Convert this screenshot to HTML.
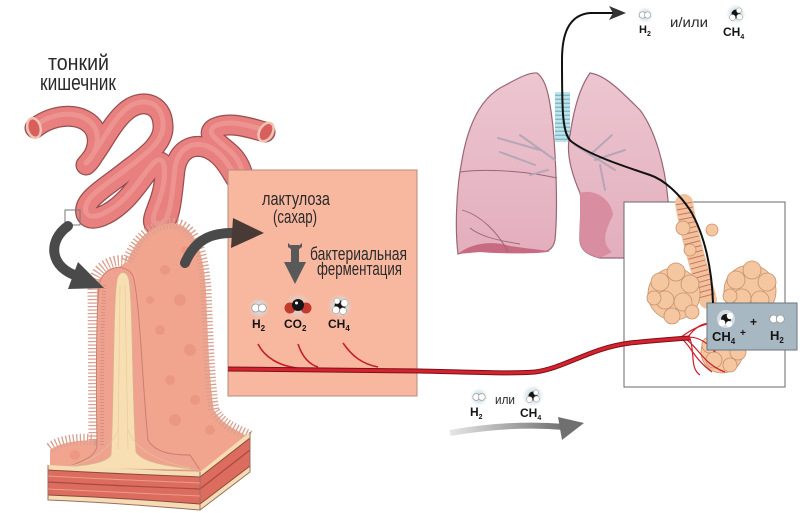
<!DOCTYPE html>
<html><head><meta charset="utf-8"><style>
html,body{margin:0;padding:0;background:#fff;}
svg{display:block;}
.t{font-family:"Liberation Sans Narrow","Liberation Sans","DejaVu Sans",sans-serif;fill:#2a2a2a;}
.b{font-family:"Liberation Sans",Arial,sans-serif;font-weight:bold;fill:#151515;}
</style></head><body>
<svg width="800" height="513" viewBox="0 0 800 513" xmlns="http://www.w3.org/2000/svg">
<defs>
<linearGradient id="ga" x1="0" y1="0" x2="1" y2="0"><stop offset="0" stop-color="#e6e6e6"/><stop offset="1" stop-color="#6e6e6e"/></linearGradient>
<linearGradient id="lung" x1="0" y1="0" x2="0" y2="1"><stop offset="0" stop-color="#ecc6d0"/><stop offset="1" stop-color="#e3aebd"/></linearGradient>
<radialGradient id="glow"><stop offset="0.4" stop-color="#cfe0e6"/><stop offset="1" stop-color="#cfe0e6" stop-opacity="0"/></radialGradient>
<pattern id="rings" width="6" height="4" patternUnits="userSpaceOnUse"><rect width="6" height="4" fill="#bfe3ea"/><rect y="2.6" width="6" height="1.4" fill="#7fb9c6"/></pattern>
</defs>

<!-- Title -->
<text class="t" x="48" y="70" font-size="22" textLength="61" lengthAdjust="spacingAndGlyphs">тонкий</text>
<text class="t" x="40" y="90" font-size="22" textLength="76" lengthAdjust="spacingAndGlyphs">кишечник</text>

<!-- Small intestine tube -->
<g fill="none" stroke-linecap="round" stroke-linejoin="round">
<path d="M35,128 C55,112 85,112 95,130 C102,145 92,160 86,165 C100,150 110,125 125,112 C140,98 162,102 163,125 C165,145 140,160 125,172 C105,188 82,200 86,214 C90,224 110,215 125,200 C140,185 150,165 158,162 C168,160 165,185 160,200 C155,215 148,226 160,226 C171,223 172,195 175,170 C178,150 192,143 207,148 C225,155 232,175 238,182 C248,186 242,165 232,155 C222,145 203,135 215,128 C230,121 250,128 265,132" stroke="#9a4e50" stroke-width="21"/>
<path d="M35,128 C55,112 85,112 95,130 C102,145 92,160 86,165 C100,150 110,125 125,112 C140,98 162,102 163,125 C165,145 140,160 125,172 C105,188 82,200 86,214 C90,224 110,215 125,200 C140,185 150,165 158,162 C168,160 165,185 160,200 C155,215 148,226 160,226 C171,223 172,195 175,170 C178,150 192,143 207,148 C225,155 232,175 238,182 C248,186 242,165 232,155 C222,145 203,135 215,128 C230,121 250,128 265,132" stroke="#e7807e" stroke-width="18.5"/>
<path d="M35,126 C55,110 85,110 95,128 C102,143 92,158 86,163 C100,148 110,123 125,110 C140,96 162,100 163,123 C165,143 140,158 125,170 C105,186 82,198 86,212 C90,222 110,213 125,198 C140,183 150,163 158,160 C168,158 165,183 160,198 C155,213 148,224 160,224 C171,221 172,193 175,168 C178,148 192,141 207,146 C225,153 232,173 238,180 C248,184 242,163 232,153 C222,143 203,133 215,126 C230,119 250,126 265,130" stroke="#f2a29e" stroke-width="5" opacity="0.6"/>
</g>
<ellipse cx="34" cy="128" rx="6.5" ry="10" fill="#d95f5c" stroke="#f0c4b4" stroke-width="2.5" transform="rotate(-15 34 128)"/>
<ellipse cx="266" cy="132" rx="6.5" ry="10" fill="#d95f5c" stroke="#f0c4b4" stroke-width="2.5" transform="rotate(30 266 132)"/>
<rect x="65" y="210" width="15" height="15" fill="none" stroke="#777" stroke-width="1"/>

<!-- Villus: back large villus -->
<path d="M127,262 C135,240 150,225 172,223 C195,225 203,250 206,290 C208,340 210,390 214,410 C222,425 238,430 248,437 L248,440 L200,472 L50,468 L50,450 C60,442 80,440 97,440 L97,280 Z" fill="#f2a58e"/>
<path d="M50,448 C60,440 80,438 94,440 L93,285 C96,262 120,258 127,262 C135,240 150,225 172,223 C195,225 203,250 206,290 C208,340 210,390 214,410 C222,425 238,430 250,436" fill="none" stroke="#d9a090" stroke-width="11" stroke-dasharray="1.3 2.2"/>
<g fill="#e7907c" opacity="0.6">
<circle cx="165" cy="270" r="5"/><circle cx="180" cy="300" r="6"/><circle cx="160" cy="330" r="5"/><circle cx="190" cy="350" r="6"/><circle cx="170" cy="380" r="5"/><circle cx="195" cy="400" r="5"/><circle cx="175" cy="420" r="6"/><circle cx="150" cy="300" r="4"/><circle cx="185" cy="250" r="4"/><circle cx="210" cy="430" r="5"/><circle cx="75" cy="455" r="5"/>
</g>
<path d="M97,445 C96,380 96,300 100,282 C104,266 126,262 133,276 C140,300 142,380 148,440 C155,452 170,455 190,455 L200,470 L60,470 C80,462 96,458 97,445 Z" fill="#efa290" stroke="#c98070" stroke-width="1"/>
<path d="M102,445 C102,380 102,300 105,285" fill="none" stroke="#d49080" stroke-width="4" stroke-dasharray="1 2"/>
<path d="M111,455 C114,400 113,305 117,280 C119,270 127,270 129,280 C133,305 132,400 136,452 C142,462 165,466 200,470 L55,468 C80,466 106,464 111,455 Z" fill="#f7deb3" stroke="#d9b58c" stroke-width="0.8"/>
<g stroke="#e8c89a" stroke-width="0.6" fill="none"><path d="M120,285 L118,450"/><path d="M125,285 L128,450"/><path d="M118,430 C110,450 90,462 70,466"/><path d="M128,430 C135,450 160,462 190,468"/></g>
<!-- block -->
<path d="M48,465 C100,468 150,470 200,472 L250,432 L250,472 L200,510 C150,506 100,502 48,500 Z" fill="#f5dcb5"/>
<path d="M48,470 C100,473 150,475 200,477 L250,438 L250,466 L200,504 C150,500 100,497 48,495 Z" fill="#dc6c5e"/>
<path d="M48,482 C100,485 150,487 200,489 L250,450" fill="none" stroke="#a84a44" stroke-width="1.2"/>
<path d="M48,470 C100,473 150,475 200,477 L250,438" fill="none" stroke="#8a4a40" stroke-width="1"/>
<path d="M48,495 C100,497 150,500 200,504 L250,466" fill="none" stroke="#8a4a40" stroke-width="1"/>
<path d="M48,465 L48,500 C100,502 150,506 200,510 L250,472 L250,432 M200,472 L200,510" fill="none" stroke="#9a7060" stroke-width="1"/>
<path d="M48,476 C100,479 150,481 200,483 M48,489 C100,491 150,494 200,496" fill="none" stroke="#ea9c8c" stroke-width="1"/>

<!-- dark curved arrows -->
<path d="M68,226 C48,240 48,268 80,277" fill="none" stroke="#4a4a4a" stroke-width="10" stroke-linecap="round"/>
<polygon points="68,289 104,288 78,262" fill="#4a4a4a"/>

<!-- salmon box -->
<rect x="228" y="170" width="189" height="226" fill="#f8b8a0" stroke="#b98a7c" stroke-width="1"/>
<path d="M185,263 C195,240 210,232 238,233" fill="none" stroke="#4a4a4a" stroke-width="10" stroke-linecap="round"/>
<polygon points="233,218 264,233 231,248" fill="#4a3a36"/>

<text class="t" x="262" y="205" font-size="18" textLength="68" lengthAdjust="spacingAndGlyphs">лактулоза</text>
<text class="t" x="273" y="223" font-size="18" textLength="44" lengthAdjust="spacingAndGlyphs">(сахар)</text>
<text class="t" x="310" y="260" font-size="18" textLength="97" lengthAdjust="spacingAndGlyphs">бактериальная</text>
<text class="t" x="317" y="275" font-size="18" textLength="85" lengthAdjust="spacingAndGlyphs">ферментация</text>
<path d="M295,245 L295,266" stroke="#595959" stroke-width="8"/>
<polygon points="284,262 306,262 295,284" fill="#595959"/>
<polygon points="288,243 295,249 302,243 302,247 295,252 288,247" fill="#595959"/>

<!-- molecules in box -->
<g transform="translate(259,308)"><circle r="10" fill="url(#glow)"/><circle cx="-3.3" r="4" fill="#fff" stroke="#9a9a9a" stroke-width="0.8"/><circle cx="3.3" r="4" fill="#fff" stroke="#9a9a9a" stroke-width="0.8"/></g>
<g transform="translate(298,306)"><circle r="13" fill="url(#glow)" opacity="0.6"/><circle cx="-8" cy="2" r="5.5" fill="#c23a2c"/><circle cx="8" cy="2" r="5.5" fill="#c23a2c"/><circle cx="0" cy="-1" r="6" fill="#151515"/><circle cx="-1.5" cy="-3" r="1.5" fill="#fff"/></g>
<g transform="translate(340,306)"><circle r="12" fill="url(#glow)"/><circle r="5.5" fill="#151515"/><circle cx="-4" cy="4" r="3.6" fill="#fff" stroke="#888" stroke-width="0.5"/><circle cx="4.5" cy="-3" r="3.6" fill="#fff" stroke="#888" stroke-width="0.5"/><circle cx="3" cy="5" r="3.4" fill="#fff" stroke="#888" stroke-width="0.5"/><circle cx="-3" cy="-5" r="3" fill="#fff" stroke="#888" stroke-width="0.5"/></g>
<text class="b" x="252" y="328" font-size="12">H<tspan font-size="8" dy="3">2</tspan></text>
<text class="b" x="284" y="328" font-size="12">CO<tspan font-size="8" dy="3">2</tspan></text>
<text class="b" x="328" y="328" font-size="12">CH<tspan font-size="8" dy="3">4</tspan></text>
<g fill="none" stroke="#c2222c" stroke-width="1.6"><path d="M258,344 C265,358 280,366 297,368"/><path d="M298,344 C302,356 308,364 318,367"/><path d="M343,343 C352,356 362,364 378,367"/></g>

<!-- Lungs -->
<rect x="555" y="92" width="15" height="50" fill="url(#rings)"/>
<path d="M537,73 C547,80 550,100 553,127 C556,160 558,210 555,240 C553,250 547,252 540,252 L507,252 C490,250 475,248 458,254 C455,230 456,190 462,160 C468,125 480,100 500,88 C515,80 528,72 537,73 Z" fill="url(#lung)" stroke="#9a6676" stroke-width="1.2"/>
<path d="M458,254 C470,244 490,240 510,246 C525,248 540,250 550,251 C545,254 500,254 480,252 Z" fill="#c86a82"/>
<path d="M460,172 C490,168 530,172 557,178 M462,210 C480,215 498,232 508,252 M470,228 C480,236 495,240 520,244" fill="none" stroke="#9a6676" stroke-width="0.9"/>
<g fill="none" stroke="#b6a6b8" stroke-width="2" stroke-linecap="round"><path d="M555,160 L520,135 M540,150 L498,138 M535,165 L500,152 M548,170 L530,175"/></g>
<path d="M590,73 C605,75 620,90 640,110 C655,130 665,165 668,200 C670,225 670,245 668,258 L600,258 C588,255 580,250 580,240 C580,220 582,200 580,193 C570,170 566,150 570,135 C573,115 578,90 590,73 Z" fill="url(#lung)" stroke="#9a6676" stroke-width="1.2"/>
<path d="M580,193 C595,188 612,200 613,215 C606,230 600,242 612,252 L600,258 C588,255 580,250 580,240 Z" fill="#d88ea0"/>
<g fill="none" stroke="#b6a6b8" stroke-width="2" stroke-linecap="round"><path d="M575,145 L615,170 M590,155 L612,135 M595,160 L625,150 M600,165 L605,190"/></g>

<!-- Inset box -->
<rect x="624" y="202" width="161" height="185" fill="#fff" stroke="#6a6a6a" stroke-width="1"/>
<path d="M684,203 C690,240 700,270 708,300" fill="none" stroke="#f0c39c" stroke-width="18" stroke-linecap="round"/>
<path d="M684,203 C690,240 700,270 708,300" fill="none" stroke="#c45c58" stroke-width="16" stroke-dasharray="1 4" opacity="0.8"/>
<g fill="#f4c7a0" stroke="#c8906c" stroke-width="0.8">
<circle cx="683" cy="228" r="7"/><circle cx="712" cy="230" r="6"/><circle cx="690" cy="250" r="6"/>
<circle cx="674" cy="294" r="26"/>
<circle cx="660" cy="282" r="9"/><circle cx="676" cy="272" r="9"/><circle cx="690" cy="284" r="9"/><circle cx="665" cy="300" r="9"/><circle cx="683" cy="302" r="9"/><circle cx="672" cy="316" r="8"/><circle cx="654" cy="298" r="7"/><circle cx="692" cy="312" r="7"/>
<circle cx="750" cy="291" r="26"/>
<circle cx="736" cy="280" r="9"/><circle cx="752" cy="270" r="9"/><circle cx="767" cy="282" r="9"/><circle cx="742" cy="298" r="9"/><circle cx="760" cy="300" r="9"/><circle cx="730" cy="296" r="7"/>
<circle cx="722" cy="352" r="21"/>
<circle cx="710" cy="345" r="8"/><circle cx="726" cy="340" r="8"/><circle cx="738" cy="352" r="8"/><circle cx="714" cy="360" r="8"/><circle cx="730" cy="365" r="7"/>
</g>
<g fill="none" stroke="#cc1f2c" stroke-width="1.2">
<path d="M680,338 C690,330 700,325 712,323"/><path d="M682,339 C690,345 695,360 712,372"/><path d="M684,338 C695,335 705,340 715,352"/><path d="M686,339 C700,350 705,365 725,372"/><path d="M688,337 C700,320 715,320 725,330"/><path d="M690,338 C695,355 690,368 700,375"/>
</g>
<path d="M228,369 L420,371 C470,372 510,374 535,372 C565,368 590,348 630,343 C650,341 670,339 690,338" fill="none" stroke="#7d1018" stroke-width="5"/>
<path d="M228,369 L420,371 C470,372 510,374 535,372 C565,368 590,348 630,343 C650,341 670,339 690,338" fill="none" stroke="#d3232e" stroke-width="3"/>

<rect x="707" y="303" width="90" height="47" fill="#a8b8c3" stroke="#6a7680" stroke-width="1"/>
<g transform="translate(726,319)"><circle r="9" fill="#fff" opacity="0.5"/><circle r="5" fill="#151515"/><circle cx="-4" cy="4" r="3.4" fill="#fff"/><circle cx="4" cy="-3" r="3.2" fill="#fff"/><circle cx="3" cy="5" r="3" fill="#fff"/></g>
<g transform="translate(777,319)"><circle cx="-3.3" r="4" fill="#fff" stroke="#9a9a9a" stroke-width="0.8"/><circle cx="3.3" r="4" fill="#fff" stroke="#9a9a9a" stroke-width="0.8"/></g>
<text class="b" x="712" y="341" font-size="13">CH<tspan font-size="8" dy="3">4</tspan></text>
<text class="b" x="740" y="336" font-size="10">+</text>
<text class="b" x="750" y="326" font-size="12">+</text>
<text class="b" x="770" y="340" font-size="13">H<tspan font-size="8" dy="3">2</tspan></text>

<path d="M713,303 C712,270 705,235 690,210 C680,195 665,180 650,175 C620,165 590,155 572,142 C562,135 562,110 562,60 C562,35 568,15 590,13 L614,13" fill="none" stroke="#111" stroke-width="2"/>
<polygon points="626,13 609,6 613,13 609,20" fill="#333"/>

<g transform="translate(645,15)"><circle r="8" fill="url(#glow)"/><circle cx="-2.6" r="3.2" fill="#fff" stroke="#999" stroke-width="0.7"/><circle cx="2.6" r="3.2" fill="#fff" stroke="#999" stroke-width="0.7"/></g>
<text class="b" x="639" y="33" font-size="11">H<tspan font-size="7" dy="3">2</tspan></text>
<text class="t" x="670" y="27" font-size="14" textLength="38" lengthAdjust="spacingAndGlyphs">и/или</text>
<g transform="translate(736,14)"><circle r="10" fill="url(#glow)"/><circle r="4.5" fill="#151515"/><circle cx="-3.5" cy="3.5" r="3" fill="#fff" stroke="#888" stroke-width="0.5"/><circle cx="3.5" cy="3" r="3" fill="#fff" stroke="#888" stroke-width="0.5"/><circle cx="3" cy="-3.5" r="2.6" fill="#fff" stroke="#888" stroke-width="0.5"/></g>
<text class="b" x="723" y="36" font-size="12">CH<tspan font-size="7" dy="3">4</tspan></text>

<g transform="translate(479,397)"><circle r="9" fill="url(#glow)"/><circle cx="-2.8" r="3.4" fill="#fff" stroke="#999" stroke-width="0.7"/><circle cx="2.8" r="3.4" fill="#fff" stroke="#999" stroke-width="0.7"/></g>
<text class="b" x="470" y="416" font-size="12">H<tspan font-size="7" dy="3">2</tspan></text>
<text class="t" x="495" y="404" font-size="13" textLength="20" lengthAdjust="spacingAndGlyphs">или</text>
<g transform="translate(533,396)"><circle r="11" fill="url(#glow)"/><circle r="4.5" fill="#151515"/><circle cx="-3.5" cy="3.5" r="3" fill="#fff" stroke="#888" stroke-width="0.5"/><circle cx="3.5" cy="3" r="3" fill="#fff" stroke="#888" stroke-width="0.5"/><circle cx="3" cy="-3.5" r="2.6" fill="#fff" stroke="#888" stroke-width="0.5"/></g>
<text class="b" x="520" y="417" font-size="12">CH<tspan font-size="7" dy="3">4</tspan></text>
<path d="M450,433 C490,426 530,424 565,427" fill="none" stroke="url(#ga)" stroke-width="6"/>
<polygon points="558,417 584,423 562,440" fill="#707070"/>
</svg>
</body></html>
